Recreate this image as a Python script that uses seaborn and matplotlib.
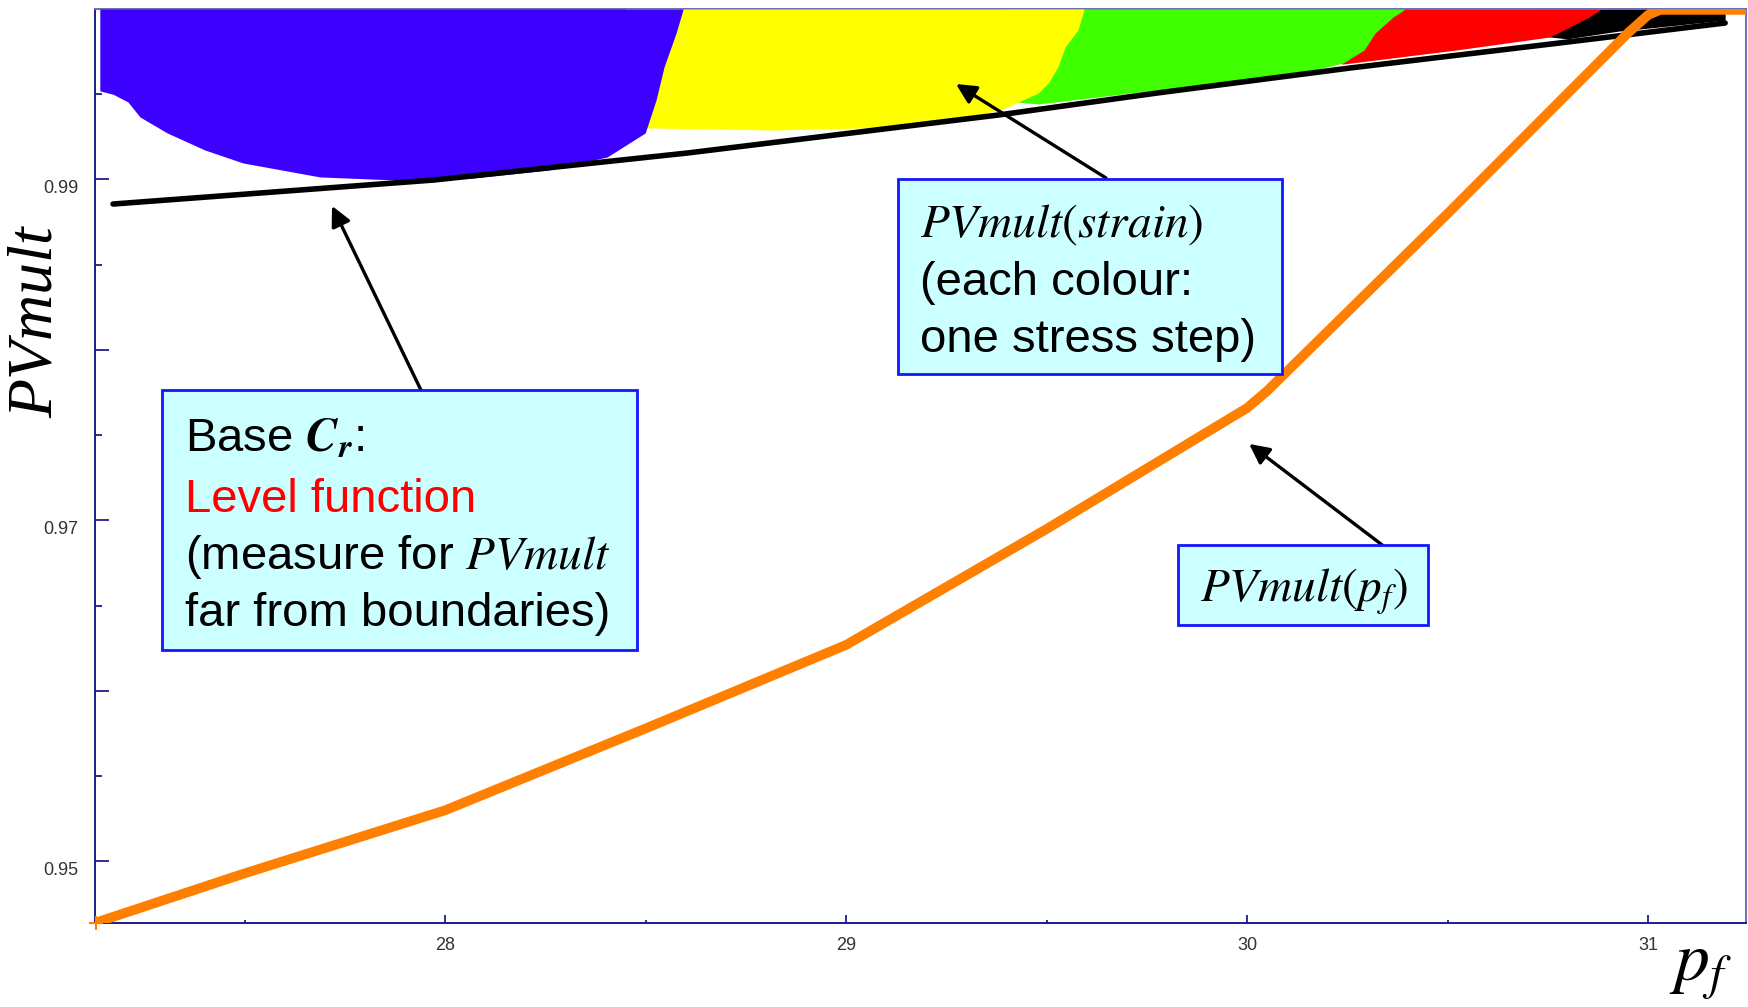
import matplotlib
matplotlib.use("Agg")
import matplotlib.pyplot as plt
import seaborn as sns
import pandas as pd
from matplotlib.patches import Rectangle
from matplotlib.ticker import FixedLocator, FixedFormatter
from matplotlib.transforms import ScaledTranslation

# ---- PVmult(strain): one band per stress step (lower envelope, upper = 1.0) ----
blue_pf = [27.139, 27.172, 27.209, 27.239, 27.307, 27.401, 27.496, 27.688, 27.878,
           28.070, 28.259, 28.404, 28.499, 28.526, 28.546, 28.576, 28.593]
blue_lo = [0.99520, 0.99500, 0.99455, 0.99367, 0.99273, 0.99173, 0.99097, 0.99015, 0.98997,
           0.99009, 0.99056, 0.99132, 0.99273, 0.99466, 0.99660, 0.99859, 0.99994]

yellow_pf = [28.45, 28.519, 28.818, 29.147, 29.314, 29.396, 29.479, 29.504, 29.528, 29.546, 29.578, 29.593]
yellow_lo = [0.99302, 0.99302, 0.99290, 0.99308, 0.99367, 0.99419, 0.99507, 0.99566, 0.99660,
             0.99777, 0.99877, 0.99994]

green_pf = [29.40, 29.479, 29.775, 29.900, 30.167, 30.239, 30.292, 30.319, 30.364, 30.391]
green_lo = [0.99460, 0.99443, 0.99525, 0.99548, 0.99642, 0.99683, 0.99760, 0.99859, 0.99953, 0.99994]

red_pf = [30.20, 30.239, 30.523, 30.755, 30.790, 30.853, 30.880]
red_lo = [0.99700, 0.99677, 0.99760, 0.99836, 0.99877, 0.99953, 0.99994]

black_pf = [30.70, 30.798, 30.925, 31.030, 31.192]
black_lo = [0.99850, 0.99825, 0.99870, 0.99895, 0.99935]

step_top = 1.0

# ---- Base C_r level function ----
base_pf = [27.172, 27.972, 28.603, 29.379, 29.775, 30.257, 30.798, 31.192]
base_pv = [0.98856, 0.98997, 0.99155, 0.99378, 0.99507, 0.99654, 0.99806, 0.99918]

# ---- PVmult(p_f) ----
pf_pf = [27.14, 27.5, 28.0, 28.5, 29.0, 29.5, 30.0, 30.05, 30.5, 30.95, 31.0, 31.03, 31.26]
pf_pv = [0.9465, 0.9493, 0.9530, 0.9578, 0.9627, 0.9695, 0.9766, 0.9776, 0.9880, 0.9986,
         0.99965, 0.99995, 0.99995]

# ---- axis ticks ----
x_major = [28, 29, 30, 31]
x_minor = [27.5, 28.5, 29.5, 30.5]
y_major = [0.95, 0.96, 0.97, 0.98, 0.99]
y_major_labels = ["0.95", "", "0.97", "", "0.99"]
y_minor = [0.955, 0.965, 0.975, 0.985, 0.995]

sns.set_theme(style="white")
plt.rcParams["font.family"] = ["Liberation Sans", "DejaVu Sans"]
plt.rcParams["mathtext.fontset"] = "stix"

W, H = 1748, 1007
fig = plt.figure(figsize=(W / 100, H / 100), dpi=100)
fig.patch.set_facecolor("white")


def fx(px):
    return px / W


def fy(py):
    return 1 - py / H


ax = fig.add_axes([fx(95), fy(923), fx(1746) - fx(95), fy(9) - fy(923)])
ax.set_facecolor("white")

# stress-step bands, later steps drawn underneath earlier ones
bands = [
    (black_pf, black_lo, "#000000", 1),
    (red_pf, red_lo, "#ff0000", 2),
    (green_pf, green_lo, "#40ff00", 3),
    (yellow_pf, yellow_lo, "#ffff00", 4),
    (blue_pf, blue_lo, "#3c00ff", 5),
]
for pf, lo, col, z in bands:
    ax.fill_between(pf, lo, step_top, color=col, linewidth=0, zorder=z)

base_df = pd.DataFrame({"pf": base_pf, "PVmult": base_pv})
sns.lineplot(data=base_df, x="pf", y="PVmult", color="black", linewidth=4,
             estimator=None, sort=False, ax=ax, zorder=6)

pf_df = pd.DataFrame({"pf": pf_pf, "PVmult": pf_pv})
sns.lineplot(data=pf_df, x="pf", y="PVmult", color="#ff8000", linewidth=7,
             estimator=None, sort=False, ax=ax, zorder=7)
ax.plot(pf_pf[0] - 0.01, pf_pv[0] - 0.0001, marker="+", color="#ff8000", markersize=10,
        mew=1.5, clip_on=False, zorder=7)

ax.set_xlim(27.127, 31.244)
ax.set_ylim(0.94639, 1.0)
ax.set_xlabel("")
ax.set_ylabel("")

ax.xaxis.set_major_locator(FixedLocator(x_major))
ax.xaxis.set_minor_locator(FixedLocator(x_minor))
ax.yaxis.set_major_locator(FixedLocator(y_major))
ax.yaxis.set_major_formatter(FixedFormatter(y_major_labels))
ax.yaxis.set_minor_locator(FixedLocator(y_minor))

navy = "#1c1c8e"
ax.tick_params(axis="both", which="both", direction="in", color=navy,
               labelcolor="#333333", labelsize=13)
ax.tick_params(axis="y", which="major", length=10, width=1.3, pad=12, left=True)
ax.tick_params(axis="y", which="minor", length=5, width=1.3, left=True)
ax.tick_params(axis="x", which="major", length=6, width=1.3, pad=10, bottom=True)
ax.tick_params(axis="x", which="minor", length=2, width=1.3, bottom=True)

for lab in ax.get_yticklabels():
    lab.set_transform(lab.get_transform() + ScaledTranslation(0, -0.07, fig.dpi_scale_trans))

for side in ["left", "bottom"]:
    ax.spines[side].set_color(navy)
    ax.spines[side].set_linewidth(1.4)
for side in ["top", "right"]:
    ax.spines[side].set_color("#6a6ab8")
    ax.spines[side].set_linewidth(1.4)

# axis titles
fig.text(fx(37), fy(322), "PVmult", family="Liberation Serif", style="italic",
         fontsize=46, rotation=90, ha="center", va="center", color="black")
fig.text(fx(1700), fy(970), r"$p_f$", fontsize=50, ha="center", va="center", color="black")

# arrows (head -> label box)
arrows = [
    ((27.718, 0.98845), (27.947, 0.97730)),
    ((29.274, 0.99560), (29.648, 0.99009)),
    ((30.005, 0.97449), (30.337, 0.96856)),
]
for head, tail in arrows:
    ax.annotate("", xy=head, xytext=tail, xycoords="data", textcoords="data",
                arrowprops=dict(arrowstyle="-|>", color="black", lw=2.4,
                                mutation_scale=30, shrinkA=0, shrinkB=0),
                zorder=9, annotation_clip=False)

box_face = "#ccffff"
box_edge = "#1414ff"


def box(x0, y0, x1, y1):
    ax.add_patch(Rectangle((fx(x0), fy(y1)), fx(x1) - fx(x0), fy(y0) - fy(y1),
                           transform=fig.transFigure, facecolor=box_face,
                           edgecolor=box_edge, linewidth=2, clip_on=False, zorder=10))


def line(x, y, s, **kw):
    kw.setdefault("fontsize", 34)
    kw.setdefault("color", "black")
    ax.text(fx(x), fy(y), s, transform=fig.transFigure, ha="left", va="baseline",
            zorder=11, clip_on=False, **kw)


box(162, 390, 637, 650)
line(185, 452, r"Base $\mathbfit{C}_{\mathbfit{r}}$:")
line(185, 512, "Level function", color="#ff0000")
line(185, 569, r"(measure for $PVmult$")
line(185, 626, "far from boundaries)")

box(898, 179, 1282, 374)
line(920, 237, r"$PVmult(strain)$")
line(920, 295, "(each colour:")
line(920, 352, "one stress step)")

box(1178, 545, 1428, 625)
line(1200, 602, r"$PVmult(p_f)$")

fig.savefig("out.png", dpi=100, facecolor="white")
